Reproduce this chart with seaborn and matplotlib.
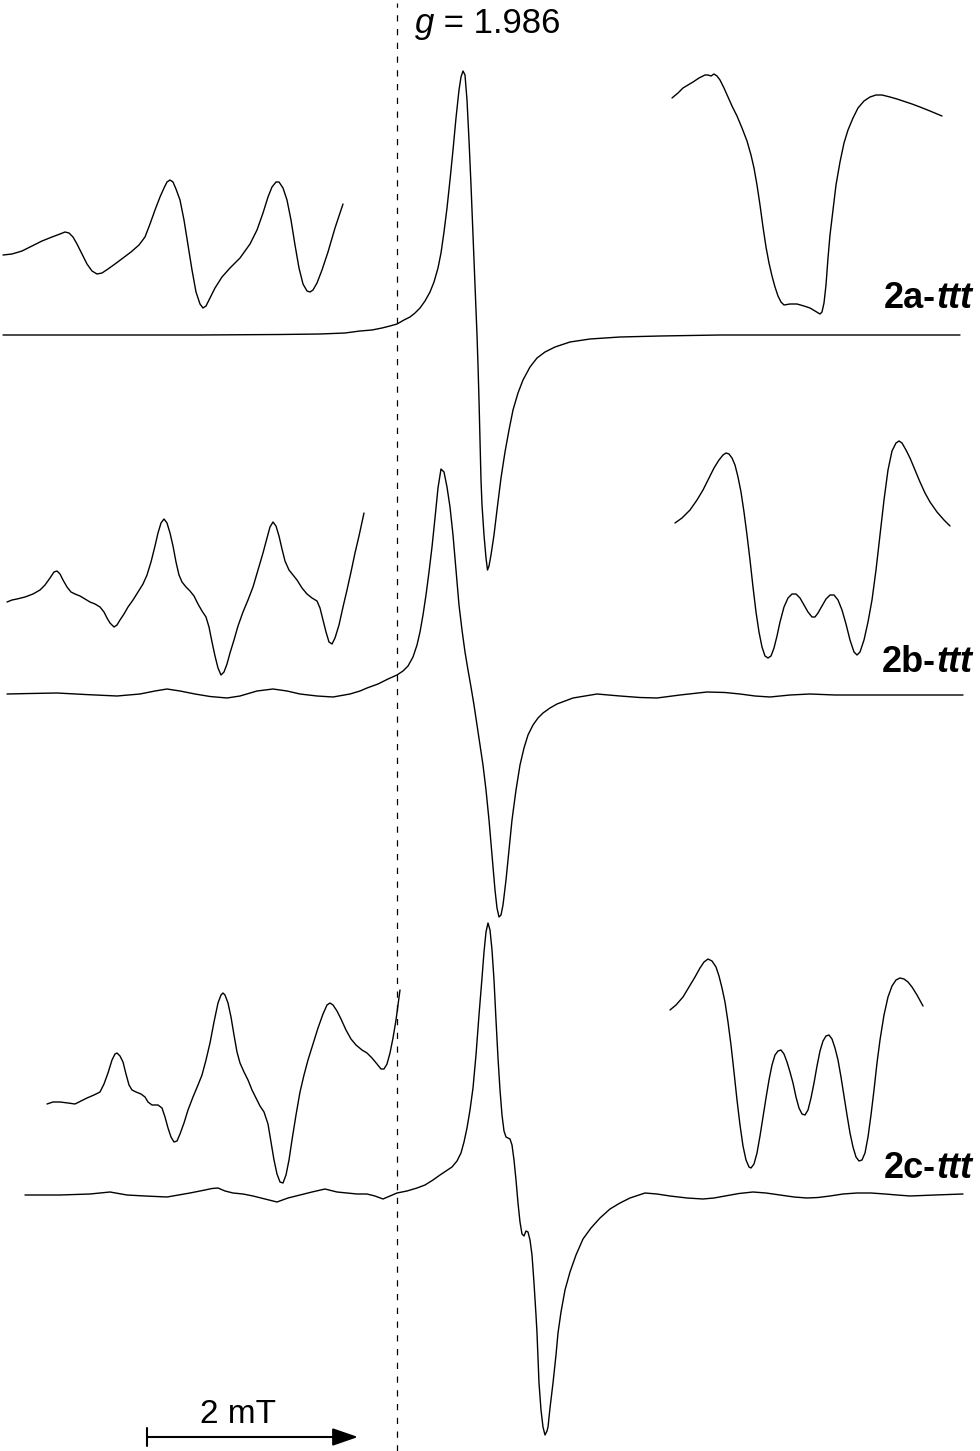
import numpy as np
import pandas as pd
import matplotlib
matplotlib.use('Agg')
import matplotlib.pyplot as plt
import seaborn as sns

sns.set_theme(style='white')
plt.rcParams['font.family'] = ['Liberation Sans', 'DejaVu Sans']
plt.rcParams['text.color'] = 'black'

# Traces (horizontal = field position, vertical = signal, image units)

# 2a-ttt : full spectrum
a_main_x = [3, 100, 200, 280, 320, 345, 360, 372, 382, 390, 397, 404, 410, 415, 420, 425, 430,
            434, 438, 441, 444, 447, 450, 453, 456, 459, 461, 463, 465, 467, 469, 471, 473,
            475, 477, 478, 479, 480, 481, 482, 484, 486, 487.5, 489, 491, 494, 497, 501, 505,
            509, 513, 518, 523, 530, 537, 545, 555, 570, 590, 620, 660, 720, 800, 960]
a_main_y = [335, 335, 335, 334.5, 334, 333, 331, 330, 328, 326, 324, 320, 317, 313, 308, 301,
            292, 282, 268, 253, 232, 208, 180, 150, 118, 90, 77, 71, 75, 100, 140, 185, 235,
            285, 335, 365, 400, 440, 480, 505, 535, 558, 570, 566, 555, 535, 510, 478, 452,
            430, 410, 393, 380, 367, 358, 352, 347, 342, 339, 337, 336, 335, 335, 335]
# 2a-ttt : enlarged low-field wing
a_left_x = [3, 12, 22, 32, 42, 52, 60, 65, 69, 73, 77, 82, 87, 92, 97, 102, 108, 115, 123,
            131, 139, 145, 150, 155, 160, 164, 167, 170, 173, 176, 180, 184, 188, 192, 196,
            200, 203, 206, 210, 215, 222, 230, 240, 250, 257, 263, 268, 272, 276, 279, 283,
            287, 291, 295, 299, 303, 307, 310, 313, 317, 322, 328, 335, 343]
a_left_y = [255, 254, 251, 246, 241, 237, 234, 232, 233, 237, 244, 254, 264, 271, 274, 273,
            269, 264, 258, 252, 245, 237, 224, 210, 197, 188, 182, 180, 182, 189, 200, 220,
            245, 270, 292, 304, 308, 306, 298, 288, 277, 268, 258, 244, 230, 213, 197, 187,
            182, 182, 188, 200, 220, 245, 268, 284, 291, 292, 290, 283, 270, 252, 228, 204]
# 2a-ttt : enlarged high-field wing
a_right_x = [672, 678, 683, 688, 693, 699, 705, 708, 711, 714, 717, 720, 724, 728, 732, 737,
             742, 747, 751, 754, 757, 760, 763, 766, 769, 772, 775, 778, 781, 784, 790, 797,
             804, 810, 815, 820, 822, 824, 826, 828, 830, 833, 836, 840, 844, 848, 853, 858,
             864, 870, 876, 882, 890, 897, 903, 912, 920, 930, 942]
a_right_y = [98, 93, 88, 85, 82, 78, 75, 75, 76, 74, 76, 80, 88, 97, 106, 116, 128, 141, 155,
             168, 185, 205, 227, 247, 263, 276, 287, 296, 302, 305, 304, 304, 306, 308, 311,
             314, 312, 303, 285, 258, 235, 210, 185, 162, 143, 130, 118, 108, 101, 97, 95, 95,
             97, 99, 101, 104, 107, 111, 116]

# 2b-ttt : full spectrum
b_main_x = [7, 30, 57, 85, 117, 140, 155, 167, 180, 195, 210, 227, 240, 257, 273, 287, 300,
            317, 333, 350, 360, 367, 378, 388, 397, 403, 408, 413, 417, 420, 423, 426, 429,
            432, 435, 438, 441, 444, 447, 450, 453, 456, 459, 462, 465, 468, 471, 474, 477,
            480, 483, 486, 489, 492, 495, 497, 499, 501, 503, 506, 509, 512, 516, 520, 524,
            528, 533, 538, 543, 550, 557, 565, 573, 585, 597, 620, 640, 657, 680, 707, 725,
            740, 755, 770, 790, 810, 835, 857, 900, 963]
b_main_y = [694, 693.5, 693, 694.5, 696, 694, 691, 689, 691, 694, 696.5, 698, 696, 691, 689,
            691, 694, 696, 697, 694, 691, 688, 684, 679, 675, 671, 666, 657, 645, 632, 615,
            595, 572, 547, 518, 488, 469, 472, 487, 507, 535, 570, 605, 630, 652, 670, 687,
            705, 725, 745, 765, 790, 820, 855, 890, 908, 917, 915, 905, 880, 850, 820, 790,
            765, 748, 735, 725, 718, 713, 708, 704, 701, 698, 696, 694, 696, 697.5, 698, 695,
            692, 692.5, 694, 696, 697, 695, 694, 695, 695, 695, 695]
# 2b-ttt : enlarged low-field wing
b_left_x = [7, 12, 17, 25, 33, 40, 45, 50, 54, 57, 60, 63, 67, 71, 75, 80, 85, 90, 95, 100,
            104, 107, 110, 114, 117, 120, 124, 128, 133, 138, 143, 147, 151, 155, 158, 161,
            164, 167, 170, 173, 176, 179, 182, 186, 190, 194, 198, 202, 206, 209, 212, 215,
            218, 221, 224, 227, 230, 234, 238, 243, 248, 253, 258, 263, 267, 270, 273, 276,
            279, 282, 285, 289, 293, 297, 302, 307, 312, 317, 320, 323, 326, 329, 332, 335,
            339, 343, 347, 351, 355, 359, 364]
b_left_y = [602, 600, 599, 597, 594, 590, 585, 578, 572, 571, 574, 580, 587, 592, 594, 596,
            599, 602, 604, 607, 612, 618, 623, 627, 625, 620, 614, 607, 600, 592, 584, 575,
            562, 546, 533, 523, 519, 523, 533, 546, 562, 575, 582, 587, 591, 596, 604, 611,
            617, 627, 642, 656, 668, 675, 672, 664, 653, 640, 626, 612, 600, 587, 570, 553,
            538, 527, 522, 526, 536, 549, 561, 570, 575, 580, 588, 594, 598, 601, 608, 620,
            632, 642, 644, 638, 625, 607, 590, 572, 553, 536, 513]
# 2b-ttt : enlarged high-field wing
b_right_x = [675, 682, 690, 697, 703, 709, 714, 719, 723, 726, 729, 732, 735, 738, 741, 744,
             747, 750, 753, 756, 759, 762, 765, 768, 771, 774, 777, 780, 784, 788, 792, 796,
             800, 804, 808, 812, 815, 818, 822, 826, 830, 834, 838, 842, 846, 850, 854, 857,
             860, 864, 868, 872, 876, 880, 884, 888, 892, 896, 899, 902, 906, 910, 915, 920,
             925, 930, 937, 944, 950]
b_right_y = [523, 518, 510, 500, 490, 478, 468, 460, 455, 453, 454, 458, 465, 477, 492, 512,
             535, 560, 587, 612, 632, 647, 656, 658, 656, 648, 636, 622, 607, 598, 594, 594,
             598, 605, 612, 617, 617, 613, 606, 599, 595, 595, 600, 610, 624, 640, 652, 655,
             652, 640, 622, 600, 570, 535, 500, 470, 451, 443, 441, 443, 450, 458, 470, 482,
             493, 502, 512, 520, 526]

# 2c-ttt : full spectrum
c_main_x = [25, 60, 90, 110, 127, 145, 167, 190, 205, 212, 218, 225, 233, 243, 253, 265, 277,
            288, 300, 312, 325, 337, 347, 357, 367, 375, 383, 390, 397, 407, 417, 425, 433,
            440, 446, 452, 457, 461, 464, 467, 470, 473, 476, 479, 482, 484, 486, 488, 490,
            492, 494, 496, 498, 500, 502, 504, 506, 508, 510, 512, 514, 516, 518, 520, 522,
            524, 526, 528, 530, 532, 534, 536, 537, 538, 539, 541, 543, 545, 547, 548, 550,
            553, 556, 558, 561, 565, 570, 576, 583, 591, 600, 610, 620, 630, 645, 657, 670,
            687, 703, 714, 725, 739, 753, 766, 780, 794, 807, 818, 830, 843, 857, 871, 885,
            897, 910, 935, 963]
c_main_y = [1195, 1195, 1194, 1192, 1195, 1196, 1197, 1193, 1190, 1188.5, 1188, 1191, 1193,
            1194, 1196, 1199, 1202, 1198, 1195, 1192, 1189, 1192, 1193, 1194, 1194, 1196,
            1199, 1196, 1193, 1191, 1188, 1185, 1180, 1175, 1171, 1167, 1161, 1153, 1142,
            1128, 1110, 1088, 1055, 1015, 978, 952, 932, 923, 930, 950, 980, 1020, 1058,
            1090, 1115, 1131, 1137, 1138, 1139, 1145, 1160, 1180, 1203, 1222, 1234, 1236,
            1231, 1232, 1240, 1255, 1283, 1315, 1333, 1358, 1383, 1410, 1427, 1435, 1431,
            1427, 1408, 1383, 1355, 1333, 1312, 1290, 1272, 1255, 1239, 1228, 1218, 1209,
            1203, 1198, 1193, 1194, 1196, 1198, 1199, 1198, 1196, 1193.5, 1192, 1193, 1195,
            1197, 1198, 1197.5, 1196, 1194, 1193, 1193, 1194, 1195, 1196, 1195, 1194]
# 2c-ttt : enlarged low-field wing
c_left_x = [47, 53, 60, 68, 75, 81, 87, 94, 100, 104, 108, 112, 115, 117, 120, 123, 126, 129,
            132, 136, 141, 145, 148, 152, 158, 162, 165, 168, 171, 174, 177, 180, 184, 188,
            193, 198, 202, 206, 210, 214, 218, 221, 223, 225, 228, 231, 234, 237, 240, 244,
            248, 252, 256, 260, 264, 268, 271, 274, 277, 280, 283, 286, 289, 292, 296, 300,
            304, 308, 313, 318, 323, 327, 330, 333, 337, 341, 346, 351, 356, 362, 367, 372,
            377, 381, 384, 387, 390, 393, 396, 398, 400]
c_left_y = [1104, 1102, 1102, 1103, 1104, 1101, 1098, 1095, 1092, 1084, 1073, 1060, 1054,
            1053, 1056, 1062, 1074, 1085, 1090, 1092, 1094, 1097, 1102, 1105, 1105, 1108,
            1117, 1128, 1137, 1142, 1141, 1134, 1123, 1110, 1097, 1085, 1075, 1060, 1043,
            1022, 1003, 995, 993, 995, 1003, 1017, 1035, 1052, 1063, 1072, 1080, 1090, 1098,
            1106, 1112, 1124, 1142, 1160, 1174, 1182, 1183, 1175, 1160, 1140, 1115, 1092,
            1075, 1060, 1044, 1028, 1014, 1005, 1003, 1005, 1011, 1019, 1030, 1039, 1045,
            1050, 1053, 1058, 1064, 1069, 1069, 1064, 1053, 1038, 1020, 1005, 990]
# 2c-ttt : enlarged high-field wing
c_right_x = [670, 676, 683, 689, 695, 700, 704, 708, 712, 716, 719, 722, 725, 728, 731, 734,
             737, 740, 743, 746, 749, 751, 754, 757, 760, 763, 766, 769, 772, 775, 778, 781,
             784, 787, 790, 793, 796, 799, 802, 805, 808, 811, 814, 817, 820, 823, 826, 829,
             832, 835, 838, 841, 844, 847, 850, 853, 856, 859, 862, 865, 868, 871, 874, 877,
             880, 884, 888, 892, 896, 900, 904, 908, 912, 917, 923]
c_right_y = [1010, 1005, 997, 987, 977, 968, 962, 959, 961, 967, 976, 988, 1002, 1022, 1045,
             1072, 1100, 1125, 1146, 1160, 1167, 1168, 1164, 1153, 1136, 1117, 1098, 1080,
             1065, 1055, 1051, 1050, 1054, 1062, 1072, 1083, 1097, 1108, 1114, 1115, 1110,
             1098, 1083, 1066, 1051, 1041, 1036, 1035, 1039, 1048, 1060, 1077, 1096, 1115,
             1133, 1147, 1157, 1161, 1160, 1153, 1137, 1115, 1090, 1063, 1040, 1015, 997,
             986, 980, 978, 979, 982, 987, 995, 1006]

traces = [(a_main_x, a_main_y), (a_left_x, a_left_y), (a_right_x, a_right_y),
          (b_main_x, b_main_y), (b_left_x, b_left_y), (b_right_x, b_right_y),
          (c_main_x, c_main_y), (c_left_x, c_left_y), (c_right_x, c_right_y)]

labels = ['2a-', '2b-', '2c-']
label_y = [299, 662, 1168]
g_line_x = 397           # position of g = 1.986
scale_start, scale_end = 147, 358   # 2 mT

fig = plt.figure(figsize=(9.8, 14.51), dpi=100)
ax = fig.add_axes([0, 0, 1, 1])

for tx, ty in traces:
    sns.lineplot(x=tx, y=ty, sort=False, estimator=None, color='black',
                 linewidth=1.0, ax=ax)

ax.axvline(g_line_x, ymin=0, ymax=0.998, color='black', linewidth=0.9,
           linestyle=(0, (5, 6)))

ax.set_xlim(0, 980)
ax.set_ylim(1451, 0)
ax.axis('off')

# g value
gt = ax.text(415, 33, 'g', fontsize=25, style='italic', va='baseline', ha='left')
ax.annotate(' = 1.986', xy=(1, 0), xycoords=gt, fontsize=25, va='bottom', ha='left')

# sample labels
for lab, ly in zip(labels, label_y):
    t = ax.text(972, ly, 'ttt', fontsize=26, fontweight='bold', style='italic',
                va='center', ha='right')
    ax.annotate(lab, xy=(0, 0.5), xycoords=t, fontsize=26, fontweight='bold',
                va='center', ha='right')

# scale bar
ax.annotate('', xy=(scale_end, 1437), xytext=(scale_start, 1437),
            arrowprops=dict(arrowstyle='-|>,head_length=1.3,head_width=0.45',
                            color='black', lw=1.5, shrinkA=0, shrinkB=0))
ax.plot([scale_start, scale_start], [1428, 1446], color='black', lw=1.5)
ax.text((scale_start + scale_end) / 2 - 15, 1423, '2 mT', fontsize=24,
        ha='center', va='baseline')

plt.savefig('out.png', dpi=100)
